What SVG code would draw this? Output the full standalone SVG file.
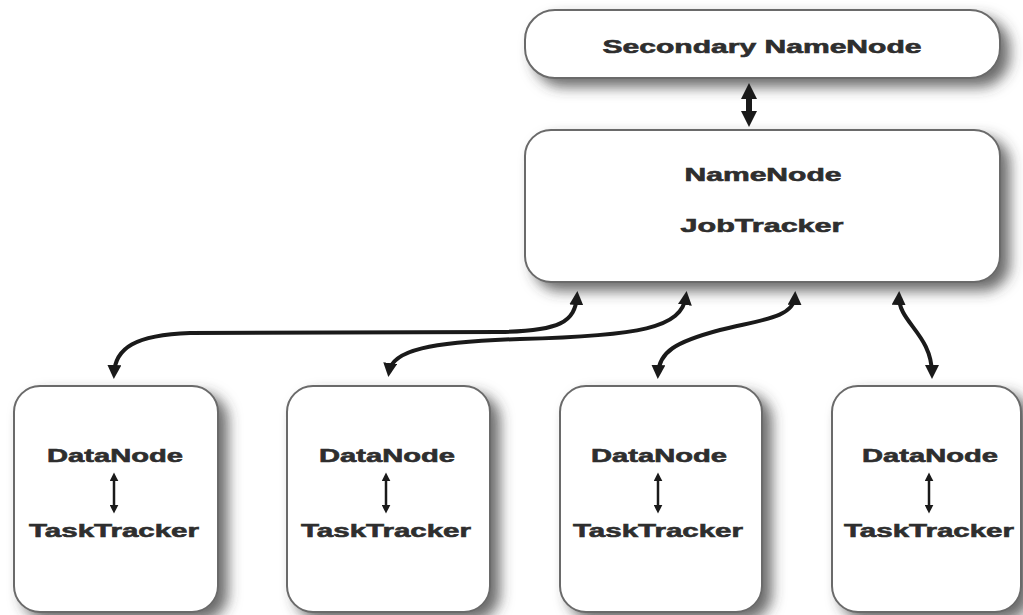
<svg xmlns="http://www.w3.org/2000/svg" width="1023" height="615" viewBox="0 0 1023 615">
<style>
.box{fill:#fff;stroke:#6a6a6a;stroke-width:2;filter:url(#sh)}
.t{font-family:"Liberation Sans",Arial,sans-serif;font-weight:bold;font-size:19px;fill:#2e2e2e;stroke:#2e2e2e;stroke-width:0.6;text-anchor:middle}
.c{fill:none;stroke:#1a1a1a;stroke-width:4;marker-start:url(#ah);marker-end:url(#ah)}
.big{fill:none;stroke:#1a1a1a;stroke-width:6;marker-start:url(#ahb);marker-end:url(#ahb)}
.small{fill:none;stroke:#1a1a1a;stroke-width:2.5;marker-start:url(#ahs);marker-end:url(#ahs)}
</style>
<defs>
<filter id="sh" x="-20%" y="-20%" width="150%" height="160%">
<feDropShadow dx="9" dy="8" stdDeviation="7" flood-color="#3a3a3a" flood-opacity="0.75"/>
</filter>
<marker id="ah" viewBox="0 0 14 14" markerUnits="userSpaceOnUse" markerWidth="14" markerHeight="14" refX="9" refY="7" orient="auto-start-reverse">
<path d="M0,0 L14,7 L0,14 z" fill="#1a1a1a"/>
</marker>
<marker id="ahb" viewBox="0 0 16 16" markerUnits="userSpaceOnUse" markerWidth="16" markerHeight="16" refX="10" refY="8" orient="auto-start-reverse">
<path d="M0,0 L16,8 L0,16 z" fill="#1a1a1a"/>
</marker>
<marker id="ahs" viewBox="0 0 10 10" markerUnits="userSpaceOnUse" markerWidth="9" markerHeight="9" refX="6" refY="5" orient="auto-start-reverse">
<path d="M0,0 L10,5 L0,10 z" fill="#1a1a1a"/>
</marker>
</defs>
<rect width="1023" height="615" fill="#fff"/>

<g id="secondary-namenode">
<rect class="box" x="525" y="10" width="475" height="68" rx="30" ry="30"/>
<text class="t" x="762" y="53" textLength="319" lengthAdjust="spacingAndGlyphs">Secondary NameNode</text>
</g>

<g id="namenode">
<rect class="box" x="525" y="130" width="475" height="152" rx="26" ry="26"/>
<text class="t" x="763" y="181" textLength="157" lengthAdjust="spacingAndGlyphs">NameNode</text>
<text class="t" x="762" y="232" textLength="163" lengthAdjust="spacingAndGlyphs">JobTracker</text>
</g>

<g id="worker1">
<rect class="box" x="14" y="386" width="204" height="226" rx="26" ry="26"/>
<text class="t" x="115" y="462" textLength="136" lengthAdjust="spacingAndGlyphs">DataNode</text>
<text class="t" x="114" y="537" textLength="170" lengthAdjust="spacingAndGlyphs">TaskTracker</text>
<path class="small" d="M114,476 L114,510"/>
</g>

<g id="worker2">
<rect class="box" x="287" y="386" width="203" height="226" rx="26" ry="26"/>
<text class="t" x="387" y="462" textLength="136" lengthAdjust="spacingAndGlyphs">DataNode</text>
<text class="t" x="386" y="537" textLength="170" lengthAdjust="spacingAndGlyphs">TaskTracker</text>
<path class="small" d="M386,476 L386,510"/>
</g>

<g id="worker3">
<rect class="box" x="560" y="386" width="202" height="226" rx="26" ry="26"/>
<text class="t" x="659" y="462" textLength="136" lengthAdjust="spacingAndGlyphs">DataNode</text>
<text class="t" x="658" y="537" textLength="170" lengthAdjust="spacingAndGlyphs">TaskTracker</text>
<path class="small" d="M658,476 L658,510"/>
</g>

<g id="worker4">
<rect class="box" x="832" y="386" width="189" height="226" rx="26" ry="26"/>
<text class="t" x="930" y="462" textLength="136" lengthAdjust="spacingAndGlyphs">DataNode</text>
<text class="t" x="929" y="537" textLength="170" lengthAdjust="spacingAndGlyphs">TaskTracker</text>
<path class="small" d="M929,476 L929,510"/>
</g>

<g id="connectors">
<path class="big" d="M749,89 L749,121"/>
<path class="c" d="M577,296 C575,322 560,331 500,332 L190,333 C135,335 115,348 114,374"/>
<path class="c" d="M686,296 C682,328 640,336 520,339 C430,342 392,350 389,372"/>
<path class="c" d="M795,296 C794,318 760,320 720,330 C675,342 659,352 658,374"/>
<path class="c" d="M899,296 C898,322 932,334 932,374"/>
</g>
</svg>
